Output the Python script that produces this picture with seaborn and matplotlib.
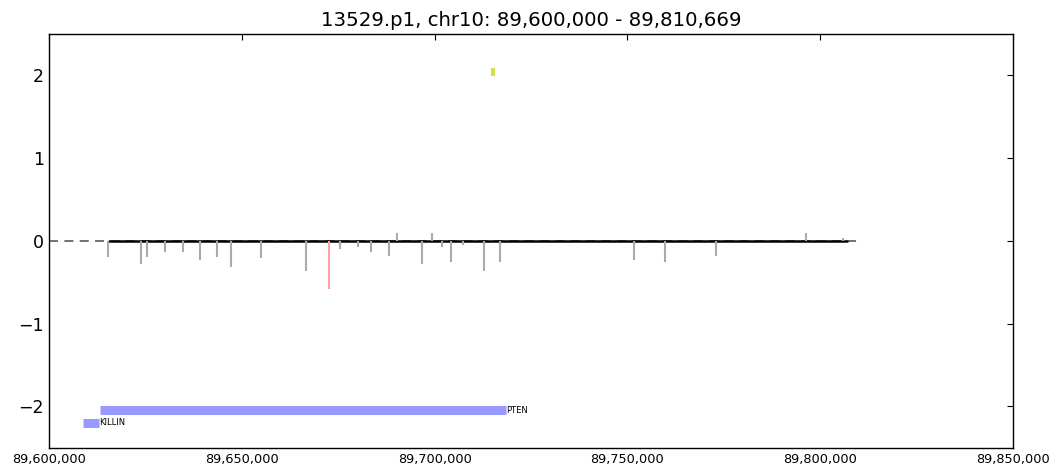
import matplotlib
matplotlib.use("Agg")
import matplotlib.pyplot as plt
import matplotlib.ticker as mticker
import seaborn as sns
import numpy as np
import pandas as pd

# Region and sample
sample = "13529.p1"
chrom = "chr10"
region_start = 89_600_000
region_end = 89_810_669

# Probe positions (bp) and log-ratio values
probe_pos = [89_615_300, 89_623_700, 89_625_260, 89_629_930, 89_634_710,
             89_639_120, 89_643_350, 89_647_070, 89_654_960, 89_666_460,
             89_672_610, 89_675_470, 89_679_960, 89_683_410, 89_688_010,
             89_690_260, 89_696_570, 89_699_250, 89_701_770, 89_704_100,
             89_707_400, 89_712_750, 89_716_820, 89_751_790, 89_759_740,
             89_773_080, 89_796_340, 89_805_950]
probe_val = [-0.19, -0.28, -0.19, -0.13, -0.13,
             -0.23, -0.20, -0.32, -0.21, -0.37,
             -0.58, -0.10, -0.08, -0.13, -0.18,
             0.09, -0.28, 0.10, -0.08, -0.26,
             -0.05, -0.36, -0.25, -0.23, -0.26,
             -0.18, 0.09, 0.03]
# flagged probe (drawn in red)
flagged_pos = [89_672_610]

# Called segment (copy-number event)
event_pos = [89_715_080]
event_low = [1.99]
event_high = [2.09]

# Flat segment along zero
segment_start = [89_615_500]
segment_end = [89_807_000]

# Genes
gene_names = ["PTEN", "KILLIN"]
gene_start = [89_613_175, 89_608_700]
gene_end = [89_718_512, 89_612_800]
gene_y = [-2.05, -2.2]

sns.set_style("white")
plt.rcParams["font.family"] = ["DejaVu Sans"]
plt.rcParams["text.color"] = "black"

fig = plt.figure(figsize=(10.59, 4.68), dpi=100)
ax = fig.add_axes([0.0467, 0.0434, 0.9097, 0.884])

probes = pd.DataFrame({"pos": probe_pos, "val": probe_val})
probes["flag"] = probes["pos"].isin(flagged_pos)

# zero baseline over the full region (dashed) and the called flat segment
ax.plot([region_start, region_end], [0, 0], color="#666666", lw=1.3,
        ls=(0, (5, 3.5)), zorder=1)
ax.plot([segment_start[0], segment_end[0]], [0, 0], color="black", lw=1.8,
        zorder=2)

normal = probes[~probes["flag"]]
flagged = probes[probes["flag"]]
ax.vlines(normal["pos"], 0, normal["val"], color="#aaaaaa", lw=1.5, zorder=3)
ax.vlines(flagged["pos"], 0, flagged["val"], color="#ffa0a8", lw=1.5, zorder=3)

# event marker
ax.vlines(event_pos, event_low, event_high, color="#d4de4c", lw=3, zorder=3)

# gene bars
for name, gs, ge, gy in zip(gene_names, gene_start, gene_end, gene_y):
    ax.plot([gs, ge], [gy, gy], color="#9999ff", lw=6.5,
            solid_capstyle="butt", zorder=3)
    ax.text(ge, gy, name, fontsize=6, ha="left", va="center", color="black")

ax.set_xlim(89_600_000, 89_850_000)
ax.set_ylim(-2.5, 2.5)
ax.xaxis.set_major_locator(mticker.MultipleLocator(50_000))
ax.yaxis.set_major_locator(mticker.MultipleLocator(1))
ax.xaxis.set_major_formatter(mticker.FuncFormatter(lambda v, p: f"{int(v):,}"))
ax.yaxis.set_major_formatter(mticker.FuncFormatter(lambda v, p: f"{int(v)}".replace("-", "\u2212")))

ax.tick_params(axis="both", direction="in", length=4, width=0.8,
               top=True, right=True, colors="black", pad=4)
ax.tick_params(axis="x", labelsize=9.3)
ax.tick_params(axis="y", labelsize=12.5)
for s in ax.spines.values():
    s.set_visible(True)
    s.set_color("black")
    s.set_linewidth(1.0)

ax.set_title(f"{sample}, {chrom}: {region_start:,} - {region_end:,}",
             fontsize=14.2, pad=6, color="black")

fig.savefig("out.png", dpi=100, facecolor="white")
